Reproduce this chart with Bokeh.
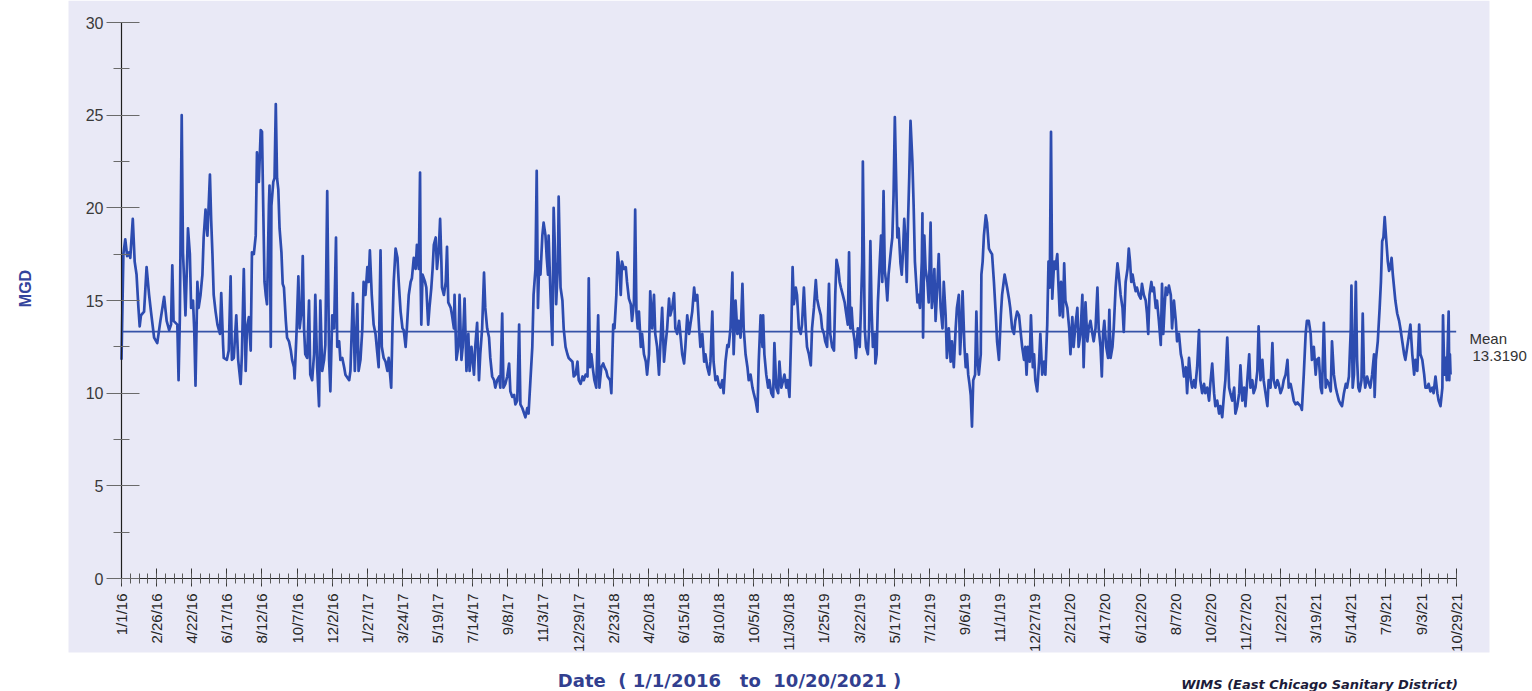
import math
from bokeh.plotting import figure
from bokeh.models import Range1d, FixedTicker, Label, BoxAnnotation
from bokeh.embed import file_html
from bokeh.resources import INLINE

# ---------------- data ----------------
# day = days since 1/1/2016, value = flow in MGD
flow_2016 = [(0,11.8),(3,17.5),(6,18.3),(9,17.4),(12,17.6),(14,17.3),(18,19.4),(21,17.1),(24,16.4),(27,14.6),(29,13.6),(31,14.2),(36,14.4),(40,16.8),(44,15.3),(47,14.4),(52,13.0),(57,12.7),(62,13.9),(68,15.2),(72,13.9),(76,13.4),(79,13.7),(81,16.9),(83,13.9),(89,13.7),(91,10.7),(93,14.0),(96,25.0),(98,17.6),(100,16.0),(102,14.2),(105,17.6),(106,18.9),(109,17.5),(111,14.6),(114,15.0),(116,13.4),(118,10.4),(121,16.0),(123,14.6),(126,15.3),(129,16.4),(131,18.4),(134,19.9),(137,18.5),(141,21.8),(143,19.3),(145,17.5),(147,15.3),(150,14.4),(153,13.7),(157,13.2),(159,15.4),(162,12.6),(163,11.9),(168,11.8),(171,12.3),(174,16.3),(176,11.8),(179,11.9),(183,14.2),(186,11.8),(190,10.5),(192,12.1),(195,16.7),(198,11.2),(200,13.5),(203,14.1),(206,12.3),(208,17.6),(211,17.5),(214,18.5),(216,23.0),(219,21.4),(222,24.2),(224,24.1),(226,20.0),(228,16.0),(230,15.3),(232,14.8),(235,20.1),(236,21.2),(238,12.5),(239,20.1),(242,21.4),(244,21.6),(246,25.6),(248,21.6),(250,21.0),(252,18.9),(255,17.6),(257,15.9),(259,15.7),(262,13.9),(264,13.0),(267,12.8),(270,12.3),(272,11.8),(275,11.4),(276,10.8),(279,13.2),(282,16.3),(284,13.5),(287,14.4),(289,17.4),(291,13.5),(293,12.1),(296,11.9),(299,15.0),(301,11.0),(304,10.7),(307,12.1),(309,15.3),(312,11.4),(315,9.3),(317,15.0),(320,11.2),(323,11.8),(325,12.6),(328,20.9),(331,11.8),(333,10.1),(336,14.2),(339,13.5),(342,18.4),(344,12.5),(347,12.8),(349,11.8),(352,11.9),(355,11.4),(357,11.0),(363,10.7),(365,11.2)]
flow_2017 = [(369,15.4),(372,11.2),(376,14.8),(378,11.2),(381,11.8),(384,13.5),(386,16.0),(389,15.3),(392,16.8),(394,16.0),(396,17.7),(399,15.3),(402,13.7),(405,13.2),(408,12.1),(410,11.4),(413,17.7),(415,12.5),(418,11.9),(421,11.7),(424,11.2),(426,11.9),(430,10.3),(432,13.5),(434,16.0),(437,17.8),(440,17.3),(442,16.0),(445,14.4),(448,13.5),(450,13.4),(453,12.5),(455,13.5),(458,15.3),(461,16.0),(463,16.2),(466,17.3),(469,16.7),(471,18.0),(474,16.7),(476,21.9),(477,16.0),(478,13.7),(480,16.4),(484,16.0),(486,15.7),(489,13.7),(491,14.6),(494,15.7),(496,16.7),(498,18.0),(501,18.4),(503,16.7),(506,17.8),(508,19.4),(510,17.1),(511,15.7),(514,15.3),(517,16.0),(519,17.9),(521,14.9),(525,14.6),(527,14.2),(530,13.5),(531,15.3),(534,11.8),(537,12.5),(539,15.3),(542,11.8),(544,12.5),(547,15.1),(550,11.2),(553,13.2),(555,11.2),(558,12.5),(562,11.0),(564,12.5),(567,13.8),(570,10.7),(572,12.1),(575,13.5),(578,16.5),(580,14.6),(583,13.5),(586,13.0),(588,11.9),(591,10.9),(594,10.7),(596,10.3),(599,10.7),(602,10.9),(604,10.3),(607,14.3),(609,10.3),(612,10.5),(615,10.9),(618,11.6),(620,10.1),(623,9.8),(626,9.9),(628,9.4),(631,9.6),(634,13.7),(636,9.4),(639,9.2),(642,8.9),(644,8.7),(647,9.2),(649,8.9),(652,10.7),(655,12.5),(657,15.3),(660,16.7),(662,22.0),(664,14.6),(666,17.1),(668,16.4),(671,18.5),(673,19.2),(676,18.5),(678,17.3),(680,16.4),(681,18.5),(684,15.3),(687,12.6),(689,20.0),(691,17.8),(693,14.8),(696,17.1),(697,20.6),(700,15.7),(703,15.0),(705,13.5),(708,12.5),(711,12.1),(713,11.9),(719,11.7),(721,10.9),(724,11.0),(727,11.7),(729,10.7)]
flow_2018 = [(732,10.5),(735,10.9),(737,10.7),(740,11.0),(743,10.9),(745,16.2),(747,11.4),(749,12.1),(752,11.2),(754,10.7),(757,10.3),(760,14.2),(762,10.3),(765,11.4),(768,11.6),(770,11.4),(773,11.2),(775,10.9),(779,10.7),(781,10.0),(784,13.7),(786,13.5),(789,15.3),(791,17.6),(794,16.7),(796,15.3),(798,17.1),(801,16.7),(804,16.8),(806,16.0),(809,15.1),(812,14.8),(814,13.9),(817,14.9),(819,19.9),(821,14.4),(823,13.5),(825,14.4),(828,12.5),(830,13.2),(833,12.1),(836,11.7),(838,11.0),(841,12.1),(843,15.5),(846,13.5),(849,15.3),(851,13.2),(854,12.5),(857,11.0),(859,12.5),(862,14.6),(865,11.7),(867,12.5),(870,13.5),(873,15.1),(875,14.2),(878,14.6),(881,15.4),(883,13.5),(886,13.2),(889,13.9),(891,13.2),(894,12.1),(897,11.6),(899,12.5),(902,14.2),(905,13.2),(907,13.7),(910,14.4),(913,15.7),(915,15.0),(918,15.3),(921,13.5),(923,12.5),(926,13.2),(929,11.7),(931,12.1),(934,11.4),(937,11.0),(939,11.7),(942,14.4),(944,11.7),(947,10.7),(950,10.9),(952,10.5),(955,10.3),(958,10.7),(960,10.0),(963,11.7),(966,12.6),(968,12.5),(971,13.5),(974,16.5),(976,12.1),(979,15.0),(982,13.2),(984,13.9),(987,13.0),(990,15.9),(992,13.5),(995,12.1),(998,11.4),(1000,10.7),(1003,11.0),(1006,10.3),(1008,10.0),(1011,9.6),(1014,9.0),(1016,11.7),(1019,14.2),(1022,12.5),(1023,14.2),(1025,12.1),(1028,11.0),(1031,10.3),(1033,10.7),(1036,10.0),(1039,9.8),(1041,12.7),(1044,10.3),(1047,10.0),(1049,11.7),(1052,10.3),(1055,10.7),(1057,11.0),(1060,10.3),(1062,10.7),(1065,9.8),(1068,13.5),(1070,16.8),(1072,14.8),(1075,15.7),(1077,15.3),(1080,13.5),(1083,13.2),(1085,13.7),(1088,15.7),(1091,13.5),(1093,12.5)]
flow_2019 = [(1096,12.1),(1099,11.5),(1101,13.5),(1104,14.6),(1107,16.1),(1109,15.1),(1112,14.6),(1115,14.2),(1117,13.5),(1120,13.2),(1122,12.8),(1125,12.5),(1128,15.9),(1130,13.2),(1133,12.5),(1136,12.3),(1138,15.3),(1140,17.2),(1143,16.7),(1145,16.0),(1147,15.7),(1150,15.3),(1153,14.9),(1155,14.4),(1158,13.7),(1160,17.6),(1162,13.5),(1164,14.6),(1166,13.5),(1169,12.8),(1171,11.9),(1174,13.5),(1177,12.5),(1179,14.6),(1181,17.1),(1182,22.5),(1185,13.5),(1187,12.5),(1190,12.1),(1192,13.5),(1194,18.2),(1196,14.4),(1198,12.5),(1201,13.2),(1202,11.6),(1204,12.1),(1206,14.9),(1209,17.1),(1211,18.5),(1213,16.0),(1215,20.9),(1217,16.6),(1219,16.0),(1221,15.0),(1223,16.4),(1225,17.1),(1227,17.8),(1229,18.4),(1231,20.7),(1233,24.9),(1235,21.7),(1237,18.4),(1239,18.9),(1242,17.0),(1244,16.4),(1246,17.6),(1248,19.4),(1250,18.2),(1252,16.0),(1254,19.2),(1256,21.7),(1258,24.7),(1261,22.5),(1263,20.1),(1265,17.1),(1267,16.0),(1269,14.9),(1271,15.3),(1273,14.6),(1276,17.1),(1277,19.7),(1278,13.0),(1280,18.5),(1282,16.7),(1285,16.0),(1287,14.9),(1290,19.2),(1292,14.6),(1294,15.3),(1296,16.7),(1298,13.9),(1301,16.0),(1303,17.5),(1306,14.6),(1309,13.5),(1311,16.0),(1314,14.2),(1316,11.9),(1319,13.5),(1322,11.7),(1324,12.8),(1327,11.4),(1330,13.5),(1332,14.6),(1335,15.3),(1337,12.1),(1339,13.5),(1341,15.5),(1344,12.5),(1346,11.4),(1348,12.1),(1350,11.0),(1352,10.5),(1354,9.9),(1356,8.2),(1358,10.7),(1361,11.0),(1363,14.4),(1365,11.7),(1367,11.0),(1370,12.1),(1371,16.4),(1373,17.1),(1375,18.5),(1378,19.6),(1380,19.2),(1383,17.8),(1386,17.6),(1388,17.5),(1391,16.0),(1394,14.2),(1396,12.8),(1399,11.8),(1402,14.2),(1404,15.3),(1408,16.4),(1412,15.7),(1415,15.1),(1417,14.6),(1420,13.5),(1423,13.2),(1425,13.9),(1428,14.4),(1431,14.2),(1433,13.5),(1436,12.5),(1439,11.8),(1441,12.5),(1443,11.0),(1445,12.5),(1448,11.7),(1450,14.2),(1453,11.4),(1455,12.1),(1457,10.7),(1460,10.1)]
flow_2020 = [(1463,11.7),(1465,13.2),(1468,11.0),(1471,11.7),(1473,11.0),(1476,13.7),(1478,17.1),(1480,15.7),(1482,24.1),(1484,15.1),(1487,17.1),(1489,16.7),(1492,17.5),(1494,15.7),(1496,14.2),(1498,16.0),(1501,14.1),(1503,17.0),(1505,15.0),(1508,14.6),(1511,13.5),(1513,12.1),(1516,14.1),(1518,12.5),(1521,13.7),(1524,14.6),(1526,12.5),(1529,13.2),(1532,15.3),(1534,11.4),(1537,14.9),(1540,12.8),(1542,13.5),(1545,13.9),(1548,13.2),(1550,12.8),(1553,13.5),(1556,15.7),(1558,13.5),(1561,12.5),(1563,10.9),(1565,13.2),(1567,13.9),(1570,12.5),(1573,11.9),(1575,14.5),(1577,11.9),(1580,12.5),(1582,13.5),(1585,15.7),(1588,17.0),(1590,16.4),(1593,15.3),(1596,14.6),(1598,13.3),(1601,16.0),(1604,16.7),(1606,17.8),(1608,17.1),(1610,16.0),(1612,16.4),(1614,16.0),(1617,15.5),(1619,15.7),(1622,15.3),(1625,15.1),(1627,15.9),(1630,15.3),(1633,15.0),(1635,14.3),(1637,13.2),(1639,15.3),(1642,16.0),(1644,15.5),(1646,15.7),(1649,14.6),(1651,15.0),(1654,13.9),(1657,12.6),(1659,15.9),(1661,13.2),(1663,14.6),(1665,15.7),(1667,15.3),(1670,15.8),(1673,15.3),(1675,13.5),(1678,15.0),(1681,13.9),(1683,12.8),(1686,13.2),(1689,12.1),(1691,11.8),(1694,10.9),(1697,11.4),(1699,10.0),(1702,11.9),(1705,10.7),(1707,10.3),(1710,10.7),(1712,10.3),(1715,11.4),(1718,13.4),(1720,10.7),(1723,10.0),(1726,10.5),(1728,10.0),(1731,10.3),(1734,9.6),(1736,10.5),(1739,11.6),(1742,10.0),(1744,9.3),(1747,9.6),(1750,8.9),(1752,9.3),(1755,8.7),(1758,10.0),(1760,10.7),(1763,13.0),(1766,10.3),(1768,10.0),(1771,9.6),(1774,10.3),(1776,8.9),(1779,9.3),(1782,10.0),(1784,11.5),(1787,9.6),(1790,10.3),(1792,9.3),(1795,10.7),(1798,12.1),(1800,10.3),(1803,10.7),(1805,10.0),(1808,10.3),(1811,11.2),(1813,13.6),(1816,10.7),(1819,11.8),(1821,10.7),(1824,10.0)]
flow_2021 = [(1827,9.3),(1829,10.7),(1832,10.3),(1835,12.7),(1837,10.7),(1840,10.3),(1843,10.7),(1845,10.5),(1848,10.0),(1851,10.3),(1853,10.7),(1856,11.0),(1859,11.8),(1861,10.3),(1864,10.5),(1867,10.0),(1869,9.6),(1872,9.4),(1875,9.5),(1877,9.4),(1880,9.3),(1882,9.1),(1885,11.0),(1888,13.2),(1890,13.9),(1893,13.9),(1896,13.2),(1898,11.8),(1901,12.5),(1904,11.0),(1906,11.8),(1909,11.9),(1912,10.3),(1914,10.0),(1917,13.8),(1920,10.3),(1922,10.7),(1925,10.5),(1928,10.1),(1930,12.8),(1933,11.0),(1936,10.3),(1938,10.0),(1941,9.6),(1944,9.4),(1946,9.3),(1949,10.0),(1952,10.5),(1954,10.3),(1957,10.9),(1960,13.5),(1961,15.8),(1963,10.3),(1965,11.0),(1968,16.0),(1970,11.8),(1972,10.3),(1974,10.1),(1977,10.7),(1979,14.3),(1981,11.0),(1983,10.3),(1986,10.9),(1989,10.5),(1991,10.3),(1994,11.0),(1997,12.1),(1998,9.8),(2000,11.8),(2003,12.8),(2006,14.6),(2008,16.0),(2010,18.2),(2012,18.4),(2014,19.5),(2016,18.5),(2019,17.1),(2021,16.6),(2023,16.8),(2025,17.3),(2027,16.4),(2029,15.7),(2031,15.0),(2034,14.3),(2037,13.9),(2039,13.5),(2042,12.8),(2045,12.1),(2047,11.8),(2050,12.5),(2053,13.2),(2055,13.7),(2058,12.1),(2061,11.0),(2063,11.8),(2066,11.2),(2069,13.7),(2071,12.1),(2074,11.8),(2077,11.0),(2079,10.3),(2082,10.3),(2084,10.5),(2087,10.1),(2090,10.3),(2092,10.0),(2095,10.9),(2098,10.0),(2100,9.6),(2103,9.3),(2106,10.3),(2107,14.2),(2109,11.0),(2111,11.9),(2113,10.7),(2116,14.4),(2117,10.7),(2118,12.1),(2119,11.0)]

mean_value = 13.3190

tick_step_days = 56
tick_labels = ["1/1/16","2/26/16","4/22/16","6/17/16","8/12/16","10/7/16","12/2/16",
               "1/27/17","3/24/17","5/19/17","7/14/17","9/8/17","11/3/17","12/29/17",
               "2/23/18","4/20/18","6/15/18","8/10/18","10/5/18","11/30/18",
               "1/25/19","3/22/19","5/17/19","7/12/19","9/6/19","11/1/19","12/27/19",
               "2/21/20","4/17/20","6/12/20","8/7/20","10/2/20","11/27/20",
               "1/22/21","3/19/21","5/14/21","7/9/21","9/3/21","10/29/21"]
y_ticks = [0, 5, 10, 15, 20, 25, 30]

y_label = "MGD"
x_title = "Date\u00a0\u00a0(\u00a01/1/2016\u00a0\u00a0\u00a0to\u00a0\u00a010/20/2021\u00a0)"
source_note = "WIMS (East Chicago Sanitary District)"

# ---------------- layout (pixel placement) ----------------
W, H = 1532, 691
x0_px = 121            # px of day 0
px_per_day = 0.6272
y0_px = 578            # px of value 0
px_per_unit = 18.533

def dx(px):
    return (px - x0_px) / px_per_day

def dy(py):
    return (y0_px - py) / px_per_unit

p = figure(width=W, height=H,
           x_range=Range1d(dx(0), dx(W)), y_range=Range1d(dy(H), dy(0)),
           output_backend="svg", toolbar_location=None,
           min_border_left=0, min_border_right=0,
           min_border_top=0, min_border_bottom=0,
           background_fill_color="#ffffff", border_fill_color="#ffffff",
           outline_line_color=None)
p.xgrid.visible = False
p.ygrid.visible = False

# lavender panel behind the chart
p.add_layout(BoxAnnotation(left=dx(68), right=dx(1489), top=dy(0), bottom=dy(652),
                           fill_color="#e9e9f6", fill_alpha=1.0, line_color=None,
                           level="underlay"))

records = flow_2016 + flow_2017 + flow_2018 + flow_2019 + flow_2020 + flow_2021
days = [r[0] for r in records]
flows = [r[1] for r in records]

last_tick = (len(tick_labels) - 1) * tick_step_days
major_x = [i * tick_step_days for i in range(len(tick_labels))]
minor_x = list(range(0, last_tick + 1, tick_step_days // 4))

# mean line
p.line([major_x[0], last_tick], [mean_value, mean_value], line_color="#3653a8", line_width=1.6)
# flow line
p.line(days, flows, line_color="#2d4cb0", line_width=2.7, line_join="round")

# y axis
ya = p.yaxis[0]
ya.fixed_location = 0
ya.bounds = (y_ticks[0], y_ticks[-1])
ya.ticker = FixedTicker(ticks=y_ticks,
                        minor_ticks=[t + 2.5 for t in y_ticks[:-1]])
ya.axis_line_color = "#1e1e1e"
ya.axis_line_width = 1.2
ya.major_tick_line_color = "#6a6a6a"
ya.minor_tick_line_color = "#6a6a6a"
ya.major_tick_in = 18
ya.major_tick_out = 15
ya.minor_tick_in = 8
ya.minor_tick_out = 8
ya.major_label_standoff = 3
ya.major_label_text_font = "Liberation Sans"
ya.major_label_text_font_size = "16px"
ya.major_label_text_color = "#3a3a3a"

# x axis
xa = p.xaxis[0]
xa.fixed_location = 0
xa.bounds = (0, last_tick)
xa.ticker = FixedTicker(ticks=major_x, minor_ticks=minor_x)
xa.major_label_overrides = {t: lab for t, lab in zip(major_x, tick_labels)}
xa.major_label_orientation = math.pi / 2
xa.axis_line_color = "#2a2a2a"
xa.major_tick_line_color = "#3a3a3a"
xa.minor_tick_line_color = "#5a5a5a"
xa.major_tick_in = 10
xa.major_tick_out = 8
xa.minor_tick_in = 5
xa.minor_tick_out = 5
xa.major_label_standoff = 7
xa.major_label_text_font = "Liberation Sans"
xa.major_label_text_font_size = "15px"
xa.major_label_text_color = "#262626"

# texts
p.add_layout(Label(x=dx(25), y=dy(288), text=y_label, angle=math.pi / 2,
                   text_align="center", text_baseline="middle",
                   text_font="Liberation Sans", text_font_style="bold",
                   text_font_size="16px", text_color="#34449c"))
p.add_layout(Label(x=dx(729), y=dy(680), text=x_title,
                   text_align="center", text_baseline="middle",
                   text_font="DejaVu Sans", text_font_style="bold",
                   text_font_size="18px", text_color="#323f8f"))
p.add_layout(Label(x=dx(1319), y=dy(684), text=source_note,
                   text_align="center", text_baseline="middle",
                   text_font="DejaVu Sans", text_font_style="bold italic",
                   text_font_size="13px", text_color="#1c1c3a"))
p.add_layout(Label(x=dx(1469), y=dy(338), text="Mean",
                   text_align="left", text_baseline="middle",
                   text_font="Liberation Sans", text_font_size="15px",
                   text_color="#333333"))
p.add_layout(Label(x=dx(1472), y=dy(355), text=f"{mean_value:.4f}",
                   text_align="left", text_baseline="middle",
                   text_font="Liberation Sans", text_font_size="15px",
                   text_color="#333333"))

open("out.html", "w").write(file_html(p, INLINE))
